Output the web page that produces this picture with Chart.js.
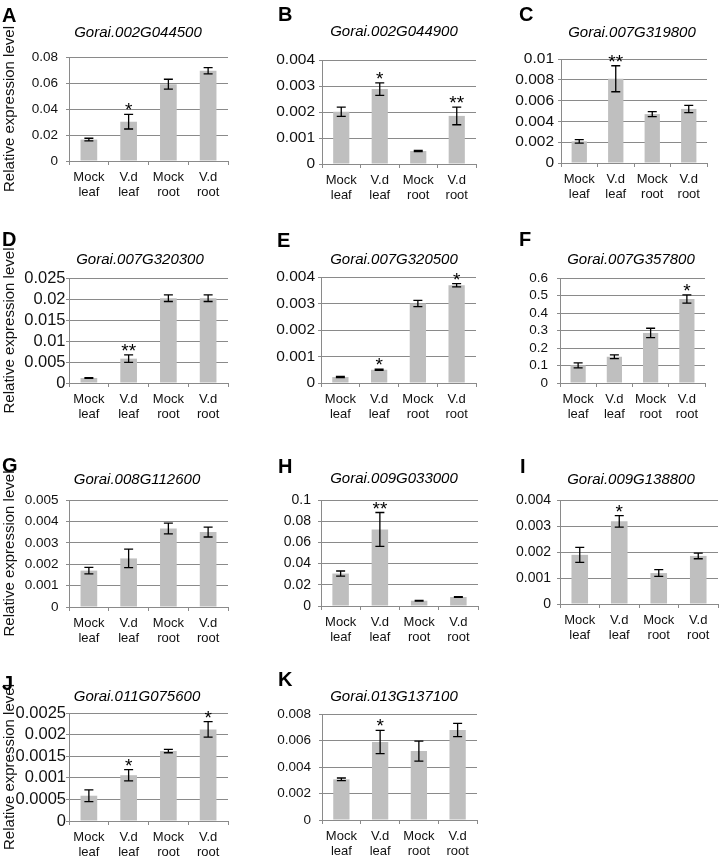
<!DOCTYPE html>
<html>
<head>
<meta charset="utf-8">
<script src="https://cdn.jsdelivr.net/npm/chart.js@4.4.1/dist/chart.umd.min.js"></script>
<style>
  html, body { margin: 0; padding: 0; background: #fff; overflow: hidden; }
  body { width: 722px; height: 859px; position: relative; }
  canvas { position: absolute; }
  .letter { position: absolute; font: bold 20px "Liberation Sans", Arial, sans-serif; line-height: 20px; color: #000; }
</style>
</head>
<body>
<script>
// data
const categories = [['Mock', 'leaf'], ['V.d', 'leaf'], ['Mock', 'root'], ['V.d', 'root']];
const panelLetters = ['A', 'B', 'C', 'D', 'E', 'F', 'G', 'H', 'I', 'J', 'K'];
const geneNames = [
    'Gorai.002G044500', 'Gorai.002G044900', 'Gorai.007G319800',
    'Gorai.007G320300', 'Gorai.007G320500', 'Gorai.007G357800',
    'Gorai.008G112600', 'Gorai.009G033000', 'Gorai.009G138800',
    'Gorai.011G075600', 'Gorai.013G137100'
];
const yAxisTitle = 'Relative expression level';
const yMax = [0.08, 0.004, 0.01, 0.025, 0.004, 0.6, 0.005, 0.1, 0.004, 0.0025, 0.008];
const yStep = [0.02, 0.001, 0.002, 0.005, 0.001, 0.1, 0.001, 0.02, 0.001, 0.0005, 0.002];
const means = [
    [0.0165, 0.0302, 0.0591, 0.0694],
    [0.00201, 0.00288, 0.0005, 0.00185],
    [0.00208, 0.0081, 0.0047, 0.0052],
    [0.0012, 0.0058, 0.0202, 0.0202],
    [0.000225, 0.0005, 0.003, 0.00369],
    [0.101, 0.150, 0.286, 0.48],
    [0.0017, 0.00227, 0.00367, 0.0035],
    [0.0306, 0.0722, 0.005, 0.0085],
    [0.00189, 0.00318, 0.00119, 0.00185],
    [0.000585, 0.00106, 0.00162, 0.00212],
    [0.00307, 0.00589, 0.0052, 0.0068]
];
const errors = [
    [0.001, 0.0056, 0.0038, 0.0024],
    [0.00018, 0.00024, 0.00002, 0.00034],
    [0.00016, 0.00125, 0.00024, 0.00035],
    [0.0001, 0.0009, 0.0008, 0.0008],
    [0.00002, 0.00002, 0.00012, 0.00006],
    [0.014, 0.011, 0.027, 0.024],
    [0.00015, 0.00043, 0.00025, 0.00023],
    [0.0024, 0.016, 0.0003, 0.0004],
    [0.00029, 0.00022, 0.00013, 0.00011],
    [0.000135, 0.00013, 0.00004, 0.00018],
    [0.0001, 0.00088, 0.00075, 0.0005]
];
const stars = [
    ['', '*', '', ''],
    ['', '*', '', '**'],
    ['', '**', '', ''],
    ['', '**', '', ''],
    ['', '*', '', '*'],
    ['', '', '', '*'],
    ['', '', '', ''],
    ['', '**', '', ''],
    ['', '*', '', ''],
    ['', '*', '', '*'],
    ['', '*', '', '']
];

// page layout of each panel (px): canvas left/top, plot box, title centre, tick font, label gap, letter
const layout = [
    { left: 0,   top: 0,   pl: 69,  pr: 228, pt: 57,  pb: 161, tx: 138, ty: 33,  tf: 13.5, gap: 11,  lx: 2,   ly: 5 },
    { left: 240, top: 0,   pl: 322, pr: 476, pt: 60,  pb: 164, tx: 394, ty: 32,  tf: 15.5, gap: 7,   lx: 278, ly: 4 },
    { left: 480, top: 0,   pl: 561, pr: 707, pt: 59,  pb: 163, tx: 632, ty: 33,  tf: 15.5, gap: 7,   lx: 519, ly: 4 },
    { left: 0,   top: 210, pl: 69,  pr: 228, pt: 278, pb: 383, tx: 140, ty: 260, tf: 16.5, gap: 3.5, lx: 2,   ly: 229 },
    { left: 240, top: 210, pl: 321, pr: 476, pt: 277, pb: 383, tx: 394, ty: 260, tf: 15.5, gap: 6,   lx: 277, ly: 230 },
    { left: 480, top: 210, pl: 560, pr: 705, pt: 278, pb: 383, tx: 631, ty: 260, tf: 13.5, gap: 12,  lx: 519, ly: 229 },
    { left: 0,   top: 420, pl: 69,  pr: 228, pt: 500, pb: 607, tx: 137, ty: 480, tf: 13.5, gap: 10.5, lx: 2,  ly: 455 },
    { left: 240, top: 420, pl: 321, pr: 478, pt: 500, pb: 606, tx: 394, ty: 479, tf: 14,   gap: 10,  lx: 278, ly: 456 },
    { left: 480, top: 420, pl: 560, pr: 718, pt: 500, pb: 604, tx: 631, ty: 480, tf: 14,   gap: 9,   lx: 520, ly: 456 },
    { left: 0,   top: 640, pl: 69,  pr: 228, pt: 713, pb: 821, tx: 137, ty: 697, tf: 16.5, gap: 2,   lx: 2,   ly: 673 },
    { left: 240, top: 640, pl: 322, pr: 477, pt: 714, pb: 820, tx: 394, ty: 697, tf: 13.5, gap: 11,  lx: 278, ly: 669 }
];

const FONT = '"Liberation Sans", Arial, sans-serif';
const AXIS_GREY = '#8a8a8a';
const BAR_GREY = '#bfbfbf';

Chart.defaults.font.family = FONT;

const errorBarPlugin = {
    id: 'errorBars',
    afterDatasetsDraw(chart, args, opts) {
        const { ctx } = chart;
        const y = chart.scales.y;
        const meta = chart.getDatasetMeta(0);
        const vals = chart.data.datasets[0].data;
        ctx.save();
        ctx.strokeStyle = '#000';
        ctx.fillStyle = '#000';
        ctx.lineWidth = 1.3;
        meta.data.forEach((bar, i) => {
            const e = opts.errors[i];
            const yTop = y.getPixelForValue(vals[i] + e);
            const yBot = y.getPixelForValue(vals[i] - e);
            const x = bar.x;
            ctx.beginPath();
            ctx.moveTo(x, yTop); ctx.lineTo(x, yBot);
            ctx.moveTo(x - 4.5, yTop); ctx.lineTo(x + 4.5, yTop);
            ctx.moveTo(x - 4.5, yBot); ctx.lineTo(x + 4.5, yBot);
            ctx.stroke();
            if (opts.stars[i]) {
                ctx.font = '19px ' + FONT;
                ctx.textAlign = 'center';
                ctx.textBaseline = 'alphabetic';
                ctx.fillText(opts.stars[i], x, yTop + 2);
            }
        });
        ctx.restore();
    }
};

const formatTick = (v) => String(+Number(v).toFixed(6));

const dibujarPanel = (i) => {
    const L = layout[i];
    const width = Math.round(2 * (L.tx - L.left));
    const height = L.pb + 40 - L.top;
    const rightSpace = width - (L.pr - L.left);
    const titlePadTop = L.ty - L.top - 9;
    const titlePadBottom = L.pt - L.top - titlePadTop - 18;
    const firstCol = L.left === 0;

    const canvas = document.createElement('canvas');
    canvas.width = width;
    canvas.height = height;
    canvas.style.left = L.left + 'px';
    canvas.style.top = L.top + 'px';
    canvas.style.width = width + 'px';
    canvas.style.height = height + 'px';
    document.body.appendChild(canvas);

    const letra = document.createElement('div');
    letra.className = 'letter';
    letra.textContent = panelLetters[i];
    letra.style.left = L.lx + 'px';
    letra.style.top = L.ly + 'px';
    document.body.appendChild(letra);

    new Chart(canvas.getContext('2d'), {
        type: 'bar',
        data: {
            labels: categories,
            datasets: [{
                data: means[i],
                backgroundColor: BAR_GREY,
                borderWidth: 0,
                barPercentage: 0.42,
                categoryPercentage: 1
            }]
        },
        options: {
            responsive: false,
            animation: false,
            devicePixelRatio: 1,
            layout: { padding: 0 },
            plugins: {
                legend: { display: false },
                tooltip: { enabled: false },
                title: {
                    display: true,
                    text: geneNames[i],
                    color: '#000',
                    font: { size: 15, style: 'italic', weight: 'normal', lineHeight: 1.2 },
                    padding: { top: titlePadTop, bottom: titlePadBottom }
                },
                errorBars: { errors: errors[i], stars: stars[i] }
            },
            scales: {
                x: {
                    grid: { drawOnChartArea: false, drawTicks: true, tickLength: 4, offset: true, color: AXIS_GREY },
                    border: { color: AXIS_GREY, width: 1 },
                    ticks: {
                        color: '#111',
                        font: { size: 13, lineHeight: 1.15 },
                        padding: 4.5,
                        maxRotation: 0,
                        autoSkip: false
                    },
                    afterFit: (s) => { s.height = height - (L.pb - L.top); }
                },
                y: {
                    min: 0,
                    max: yMax[i],
                    ticks: {
                        stepSize: yStep[i],
                        autoSkip: false,
                        color: '#111',
                        font: { size: L.tf },
                        padding: Math.max(L.gap - 3, 0),
                        callback: formatTick
                    },
                    grid: { color: AXIS_GREY, tickLength: 3, lineWidth: 1 },
                    border: { color: AXIS_GREY, width: 1 },
                    title: {
                        display: firstCol,
                        text: yAxisTitle,
                        color: '#111',
                        font: { size: 15, lineHeight: 1.2 },
                        padding: { top: 1, bottom: 0 }
                    },
                    afterFit: (s) => { s.width = L.pl - L.left; }
                },
                // empty spacer on the right so the title stays centred where the figure has it
                margen: {
                    type: 'linear',
                    axis: 'y',
                    position: 'right',
                    grid: { display: false },
                    border: { display: false },
                    ticks: { display: false },
                    afterFit: (s) => { s.width = rightSpace; }
                }
            }
        },
        plugins: [errorBarPlugin]
    });
};

geneNames.forEach((_, i) => dibujarPanel(i));
</script>
</body>
</html>
